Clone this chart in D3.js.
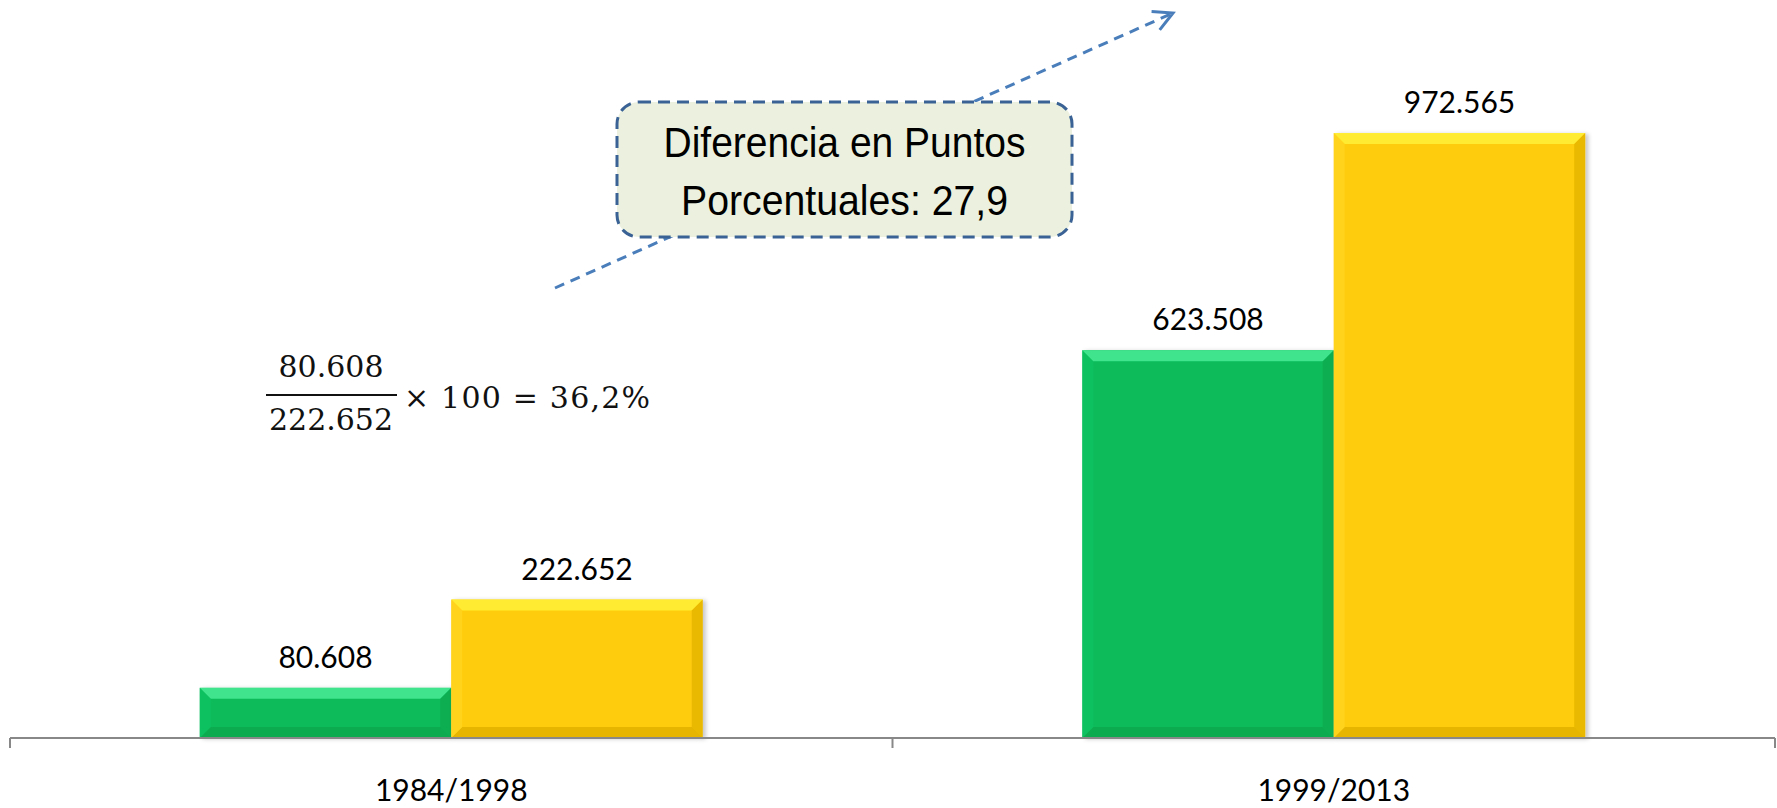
<!DOCTYPE html>
<html>
  <head>
    <meta charset="utf-8">
    <script type="text/javascript" src="https://d3js.org/d3.v7.min.js"></script>
    <title></title>
  </head>
  <style media="screen">
    body { margin: 0; background: #fff; }
  </style>
  <body>

    <script type="text/javascript">

    // data
    var categories = ["1984/1998", "1999/2013"];
    var series = ["serie1", "serie2"];
    var serie1 = [80608, 623508];
    var serie2 = [222652, 972565];
    var seriesColors = ["#0abb5a", "#ffcc08"];
    var boxLines = ["Diferencia en Puntos", "Porcentuales: 27,9"];

    var width = 1777, height = 808;

    var es = d3.formatLocale({decimal: ",", thousands: ".", grouping: [3], currency: ["", ""]});
    var fmt = es.format(",d");
    var pct = es.format(".1f");

    var svg = d3.select("body").append("svg")
        .attr("width", width)
        .attr("height", height);

    var defs = svg.append("defs");
    defs.append("filter")
        .attr("id", "shadow")
        .attr("x", "-10%").attr("y", "-10%").attr("width", "130%").attr("height", "130%")
      .append("feDropShadow")
        .attr("dx", 3).attr("dy", 1)
        .attr("stdDeviation", 2)
        .attr("flood-color", "#000")
        .attr("flood-opacity", 0.22);

    defs.append("marker")
        .attr("id", "arrow")
        .attr("markerUnits", "userSpaceOnUse")
        .attr("viewBox", "-22 -12 26 24")
        .attr("markerWidth", 26).attr("markerHeight", 24)
        .attr("refX", 0).attr("refY", 0)
        .attr("orient", "auto")
      .append("path")
        .attr("d", "M-19,-10L0,0L-19,10")
        .attr("fill", "none")
        .attr("stroke", "#4a7ebb")
        .attr("stroke-width", 3);

    var x0 = d3.scaleBand().domain(categories).range([10, 1775]);
    var groupW = 503;
    var x1 = d3.scaleBand().domain(series).range([0, groupW]);
    var y = d3.scaleLinear().domain([0, 1000000]).range([738, 116]);

    var rows = categories.map(function(c, i) {
      return {cat: c, vals: [serie1[i], serie2[i]]};
    });

    // dashed arrow behind the callout
    svg.append("line")
        .attr("x1", 555).attr("y1", 288)
        .attr("x2", 1173).attr("y2", 13)
        .attr("stroke", "#4a7ebb")
        .attr("stroke-width", 3)
        .attr("stroke-dasharray", "10,7")
        .attr("marker-end", "url(#arrow)");

    // bars
    var groups = svg.selectAll(".grp")
        .data(rows)
      .enter().append("g")
        .attr("class", "grp")
        .attr("transform", function(d) {
          return "translate(" + (x0(d.cat) + (x0.bandwidth() - groupW) / 2) + ",0)";
        });

    var shades = [
      {light: "#4cef98", dark: "#06903f", side: "#14c868"},
      {light: "#fff43c", dark: "#b58a00", side: "#ffd830"}
    ];

    groups.each(function(d) {
      var g = d3.select(this);
      d.vals.forEach(function(v, k) {
        var bx = x1(series[k]), bw = x1.bandwidth();
        var top = y(v), bot = y(0), bh = bot - top;
        var b = Math.min(11, bh / 3);
        var s = shades[k];
        var bar = g.append("g").attr("filter", "url(#shadow)");
        bar.append("rect")
            .attr("x", bx).attr("y", top)
            .attr("width", bw).attr("height", bh)
            .attr("fill", seriesColors[k]);
        // bevel
        bar.append("polygon")
            .attr("points", [[bx, top], [bx + bw, top], [bx + bw - b, top + b], [bx + b, top + b]].join(" "))
            .attr("fill", s.light).attr("opacity", 0.8);
        bar.append("polygon")
            .attr("points", [[bx, bot], [bx + bw, bot], [bx + bw - b, bot - b], [bx + b, bot - b]].join(" "))
            .attr("fill", s.dark).attr("opacity", 0.35);
        bar.append("polygon")
            .attr("points", [[bx + bw, top], [bx + bw, bot], [bx + bw - b, bot - b], [bx + bw - b, top + b]].join(" "))
            .attr("fill", s.dark).attr("opacity", 0.3);
        bar.append("polygon")
            .attr("points", [[bx, top], [bx, bot], [bx + b, bot - b], [bx + b, top + b]].join(" "))
            .attr("fill", s.side).attr("opacity", 0.5);
        g.append("text")
            .attr("x", bx + bw / 2)
            .attr("y", top - 20)
            .attr("text-anchor", "middle")
            .style("font-family", "Lato, 'Open Sans', sans-serif")
            .attr("font-size", 30)
            .attr("fill", "#000")
            .text(fmt(v));
      });
    });

    // axis
    var xAxis = d3.axisBottom(x0).tickSize(0);
    var ax = svg.append("g")
        .attr("transform", "translate(0," + y(0) + ")")
        .call(xAxis);
    ax.select(".domain").remove();
    ax.selectAll("text")
        .attr("y", 63).attr("dy", 0)
        .attr("font-size", 30)
        .style("font-family", "Lato, sans-serif")
        .attr("fill", "#000");

    var bounds = x0.domain().map(function(c) { return x0(c); }).concat([x0.range()[1]]);
    svg.append("line")
        .attr("x1", x0.range()[0]).attr("x2", x0.range()[1])
        .attr("y1", y(0)).attr("y2", y(0))
        .attr("stroke", "#888").attr("stroke-width", 2);
    svg.selectAll(".btick")
        .data(bounds)
      .enter().append("line")
        .attr("class", "btick")
        .attr("x1", function(d) { return d; }).attr("x2", function(d) { return d; })
        .attr("y1", y(0)).attr("y2", y(0) + 10)
        .attr("stroke", "#888").attr("stroke-width", 2);

    // callout
    svg.append("rect")
        .attr("x", 617).attr("y", 102)
        .attr("width", 455).attr("height", 135)
        .attr("rx", 22).attr("ry", 22)
        .attr("fill", "#ebf1de")
        .attr("stroke", "#3a6294")
        .attr("stroke-width", 3)
        .attr("stroke-dasharray", "12,7");
    var boxW = [362, 327];
    boxLines.forEach(function(t, i) {
      svg.append("text")
          .attr("x", 844.5).attr("y", 157 + i * 58)
          .attr("text-anchor", "middle")
          .style("font-family", "'Liberation Sans', Arial, sans-serif")
          .attr("font-size", 42)
          .attr("textLength", boxW[i])
          .attr("lengthAdjust", "spacingAndGlyphs")
          .attr("fill", "#000")
          .text(t);
    });

    // formula
    var fx = svg.append("g")
        .attr("font-size", 30)
        .attr("fill", "#111");
    fx.append("text")
        .attr("x", 331).attr("y", 377)
        .attr("text-anchor", "middle")
        .style("font-family", "'DejaVu Serif', serif")
        .text(fmt(serie1[0]));
    fx.append("line")
        .attr("x1", 266).attr("x2", 397)
        .attr("y1", 395).attr("y2", 395)
        .attr("stroke", "#111").attr("stroke-width", 2);
    fx.append("text")
        .attr("x", 331).attr("y", 430)
        .attr("text-anchor", "middle")
        .style("font-family", "'DejaVu Serif', serif")
        .text(fmt(serie2[0]));
    fx.append("text")
        .attr("x", 404).attr("y", 408)
        .style("font-family", "'DejaVu Serif', serif")
        .attr("textLength", 246)
        .attr("lengthAdjust", "spacing")
        .text("\u00d7 100 = " + pct(serie1[0] / serie2[0] * 100) + "%");

    </script>

  </body>
</html>
